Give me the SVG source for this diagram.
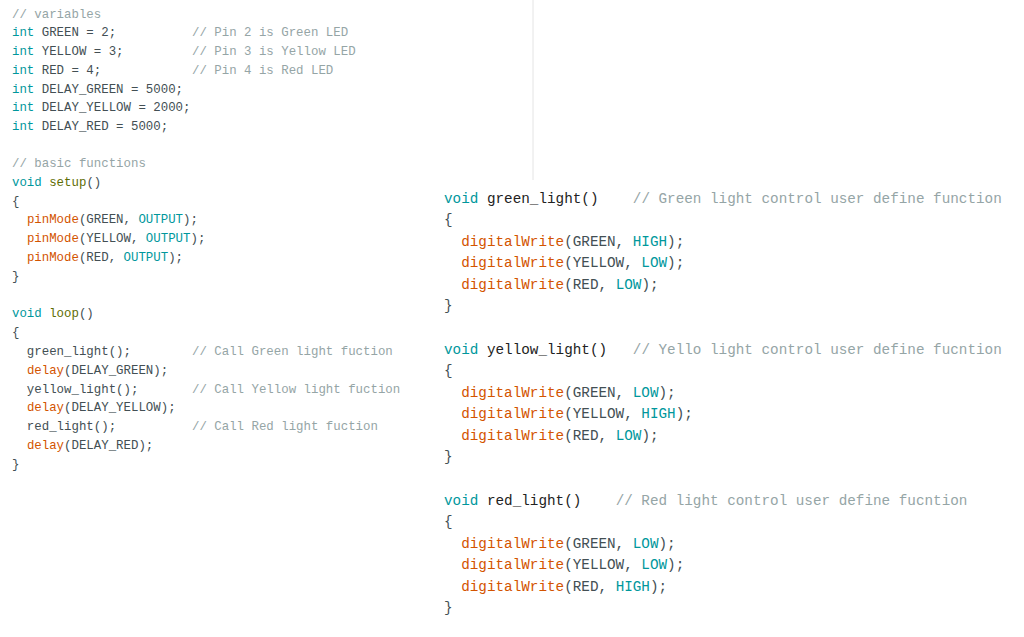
<svg xmlns="http://www.w3.org/2000/svg" width="1024" height="637" viewBox="0 0 1024 637">
<style>
text{font-family:"Liberation Mono","Courier New",monospace;fill:#434f54;white-space:pre}
.l{font-size:12.4px}.r{font-size:14.3px}
.k{fill:#00979c}.f{fill:#d35400}.s{fill:#5e6d03}.c{fill:#95a5a6}.b{fill:#222}
</style>
<rect width="1024" height="637" fill="#fff"/>
<line x1="533" y1="0" x2="533" y2="180" stroke="#e4e4e4"/>
<g id="left" class="l" xml:space="preserve">
<text x="12" y="18"><tspan class="c">// variables</tspan></text>
<text x="12" y="36"><tspan class="k">int</tspan> GREEN = 2;</text><text x="192" y="36" class="c">// Pin 2 is Green LED</text>
<text x="12" y="55"><tspan class="k">int</tspan> YELLOW = 3;</text><text x="192" y="55" class="c">// Pin 3 is Yellow LED</text>
<text x="12" y="74"><tspan class="k">int</tspan> RED = 4;</text><text x="192" y="74" class="c">// Pin 4 is Red LED</text>
<text x="12" y="93"><tspan class="k">int</tspan> DELAY_GREEN = 5000;</text>
<text x="12" y="111"><tspan class="k">int</tspan> DELAY_YELLOW = 2000;</text>
<text x="12" y="130"><tspan class="k">int</tspan> DELAY_RED = 5000;</text>
<text x="12" y="167" class="c">// basic functions</text>
<text x="12" y="186"><tspan class="k">void</tspan> <tspan class="s">setup</tspan>()</text>
<text x="12" y="205">{</text>
<text x="12" y="223">  <tspan class="f">pinMode</tspan>(GREEN, <tspan class="k">OUTPUT</tspan>);</text>
<text x="12" y="242">  <tspan class="f">pinMode</tspan>(YELLOW, <tspan class="k">OUTPUT</tspan>);</text>
<text x="12" y="261">  <tspan class="f">pinMode</tspan>(RED, <tspan class="k">OUTPUT</tspan>);</text>
<text x="12" y="280">}</text>
<text x="12" y="317"><tspan class="k">void</tspan> <tspan class="s">loop</tspan>()</text>
<text x="12" y="336">{</text>
<text x="12" y="355">  green_light();</text><text x="192" y="355" class="c">// Call Green light fuction</text>
<text x="12" y="374">  <tspan class="f">delay</tspan>(DELAY_GREEN);</text>
<text x="12" y="393">  yellow_light();</text><text x="192" y="393" class="c">// Call Yellow light fuction</text>
<text x="12" y="411">  <tspan class="f">delay</tspan>(DELAY_YELLOW);</text>
<text x="12" y="430">  red_light();</text><text x="192" y="430" class="c">// Call Red light fuction</text>
<text x="12" y="449">  <tspan class="f">delay</tspan>(DELAY_RED);</text>
<text x="12" y="468">}</text>
</g>
<g id="green_light" class="r" xml:space="preserve">
<text x="444" y="203"><tspan class="k">void</tspan> <tspan class="b">green_light()</tspan>    <tspan class="c">// Green light control user define function</tspan></text>
<text x="444" y="224">{</text>
<text x="444" y="246">  <tspan class="f">digitalWrite</tspan>(GREEN, <tspan class="k">HIGH</tspan>);</text>
<text x="444" y="267">  <tspan class="f">digitalWrite</tspan>(YELLOW, <tspan class="k">LOW</tspan>);</text>
<text x="444" y="289">  <tspan class="f">digitalWrite</tspan>(RED, <tspan class="k">LOW</tspan>);</text>
<text x="444" y="310">}</text>
</g>
<g id="yellow_light" class="r" xml:space="preserve">
<text x="444" y="354"><tspan class="k">void</tspan> <tspan class="b">yellow_light()</tspan>   <tspan class="c">// Yello light control user define fucntion</tspan></text>
<text x="444" y="375">{</text>
<text x="444" y="397">  <tspan class="f">digitalWrite</tspan>(GREEN, <tspan class="k">LOW</tspan>);</text>
<text x="444" y="418">  <tspan class="f">digitalWrite</tspan>(YELLOW, <tspan class="k">HIGH</tspan>);</text>
<text x="444" y="440">  <tspan class="f">digitalWrite</tspan>(RED, <tspan class="k">LOW</tspan>);</text>
<text x="444" y="461">}</text>
</g>
<g id="red_light" class="r" xml:space="preserve">
<text x="444" y="505"><tspan class="k">void</tspan> <tspan class="b">red_light()</tspan>    <tspan class="c">// Red light control user define fucntion</tspan></text>
<text x="444" y="526">{</text>
<text x="444" y="548">  <tspan class="f">digitalWrite</tspan>(GREEN, <tspan class="k">LOW</tspan>);</text>
<text x="444" y="569">  <tspan class="f">digitalWrite</tspan>(YELLOW, <tspan class="k">LOW</tspan>);</text>
<text x="444" y="591">  <tspan class="f">digitalWrite</tspan>(RED, <tspan class="k">HIGH</tspan>);</text>
<text x="444" y="612">}</text>
</g>
<g id="connectors"/>
</svg>
